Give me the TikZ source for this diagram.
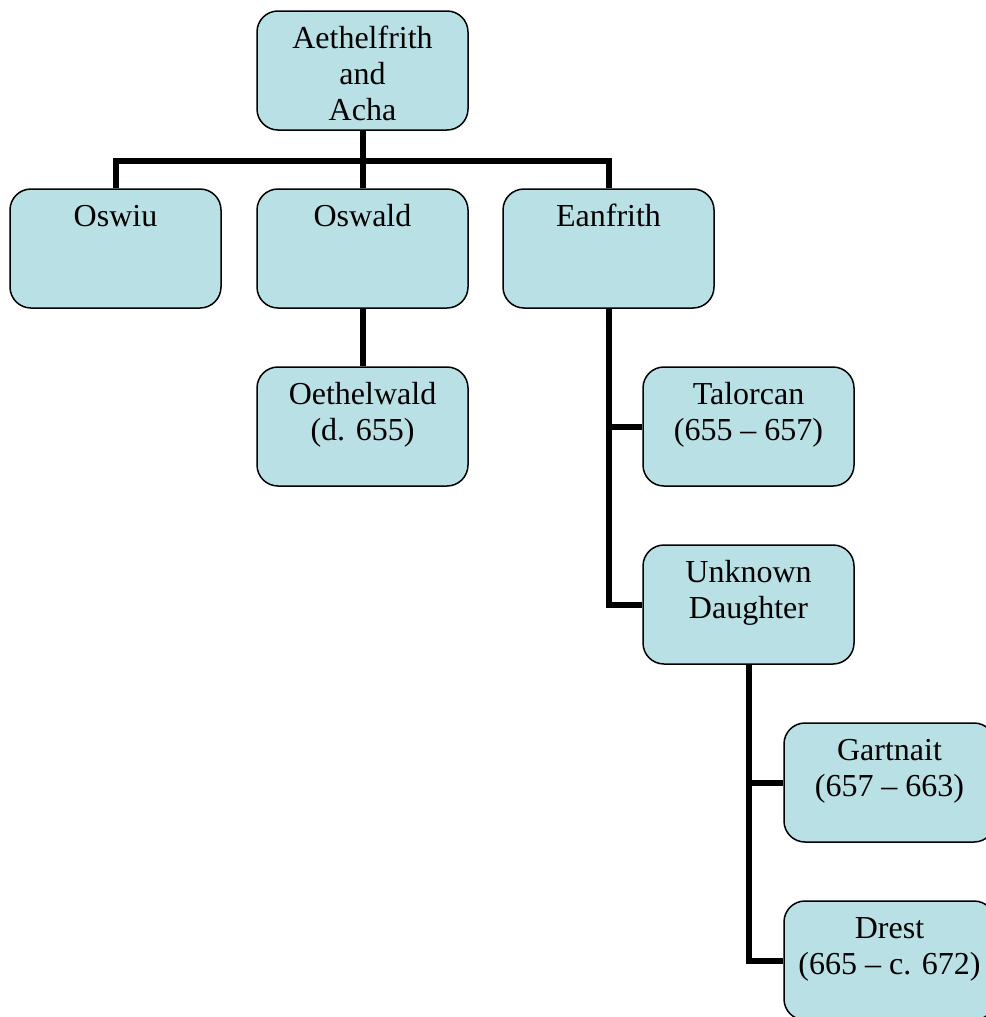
\documentclass[tikz,border=0pt]{standalone}
\usepackage{fontspec}
\setmainfont{Liberation Serif}
\usepackage{xcolor}
\usepackage{tikz}
\usetikzlibrary{calc}
\usetikzlibrary{positioning}

\definecolor{boxblue}{RGB}{185,224,228}
\newcommand{\who}[1]{\parbox[t][119pt][t]{205pt}{\centering\fontsize{32}{36}\selectfont\rule{0pt}{37pt}#1}}

\begin{document}
\begin{tikzpicture}[x=1pt,y=-1pt,semithick]
	\tikzstyle{person}=[draw, line width=1.5pt, rounded corners=21pt, fill=boxblue, inner sep=0pt, minimum width=211pt, minimum height=119pt]
	\tikzstyle{line}=[line width=6pt]
	\useasboundingbox (0,0) rectangle (985,1017);
		\node[person]	(AA) at (362.5,70.5)	{\who{Aethelfrith\\and\\Acha}};
		\node[person]	(OSI) at (115.5,248.5)	{\who{Oswiu}};
		\node[person]	(OSA) at (362.5,248.5)	{\who{Oswald}};
		\node[person]	(EAN) at (608.5,248.5)	{\who{Eanfrith}};
		\node[person]	(OET) at (362.5,426.5)	{\who{Oethelwald\\(d. 655)}};
		\node[person]	(TAL) at (748.5,426.5)	{\who{Talorcan\\(655 -- 657)}};
		\node[person]	(UD) at (748.5,604.5)	{\who{Unknown\\Daughter}};
		\node[person]	(GAR) at (889.5,782.5)	{\who{Gartnait\\(657 -- 663)}};
		\node[person]	(DRE) at (889.5,960.5)	{\who{Drest\\(665 -- c. 672)}};
		\coordinate (bar) at (362.5,161);
		% family lines
		\draw[line] (AA.south) -- (bar);
		\draw[line] (OSI.north) |- (bar) -| (EAN.north);
		\draw[line] (bar) -- (OSA.north);
		\draw[line] (OSA.south) -- (OET.north);
		\draw[line] (EAN.south) |- (UD.west);
		\draw[line] (TAL.west) -| (EAN.south);
		\draw[line] (UD.south) |- (DRE.west);
		\draw[line] (GAR.west) -| (UD.south);
\end{tikzpicture}
\end{document}
